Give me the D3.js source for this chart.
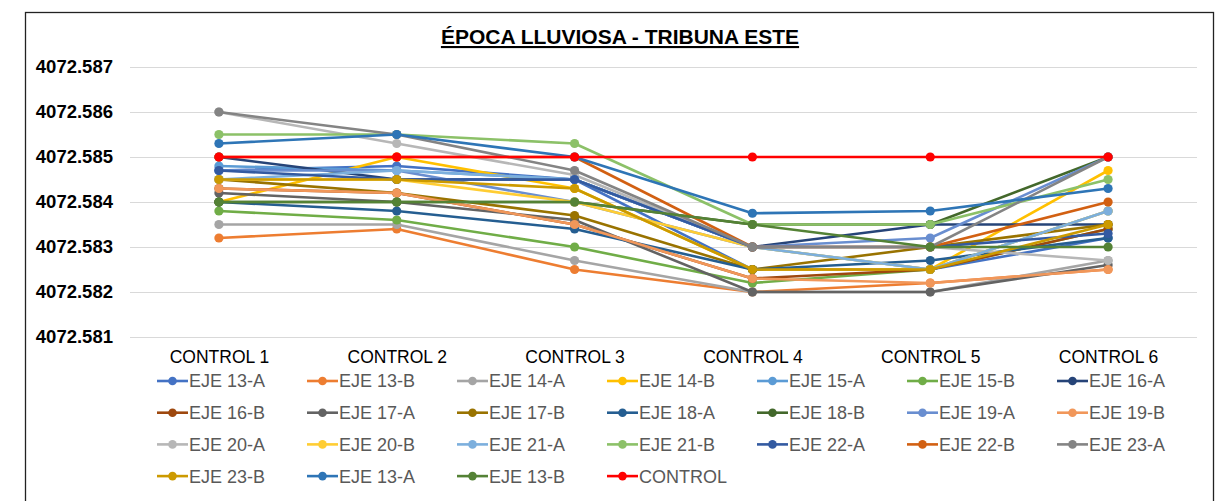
<!DOCTYPE html>
<html>
<head>
<meta charset="utf-8">
<script src="https://cdn.jsdelivr.net/npm/d3@7"></script>
<style>
  body { margin: 0; background: #fff; }
  svg { display: block; font-family: "Liberation Sans", Arial, sans-serif; }
</style>
</head>
<body>
<svg id="chart" width="1225" height="501"></svg>
<script>
// Época lluviosa, tribuna este: elevation readings per control.
const CONTROLS = ['CONTROL 1', 'CONTROL 2', 'CONTROL 3', 'CONTROL 4', 'CONTROL 5', 'CONTROL 6'];
const Y_TICKS = [4072.581, 4072.582, 4072.583, 4072.584, 4072.585, 4072.586, 4072.587];

const SERIES_NAMES = [
  'EJE 13-A', 'EJE 13-B', 'EJE 14-A', 'EJE 14-B', 'EJE 15-A', 'EJE 15-B', 'EJE 16-A',
  'EJE 16-B', 'EJE 17-A', 'EJE 17-B', 'EJE 18-A', 'EJE 18-B', 'EJE 19-A', 'EJE 19-B',
  'EJE 20-A', 'EJE 20-B', 'EJE 21-A', 'EJE 21-B', 'EJE 22-A', 'EJE 22-B', 'EJE 23-A',
  'EJE 23-B', 'EJE 13-A', 'EJE 13-B', 'CONTROL',
];

const SERIES_COLORS = [
  '#4472C4', '#ED7D31', '#A5A5A5', '#FFC000', '#5B9BD5', '#70AD47', '#264478',
  '#9E480E', '#636363', '#997300', '#255E91', '#43682B', '#698ED0', '#F1975A',
  '#B7B7B7', '#FFCD33', '#7CAFDD', '#8CC168', '#335AA1', '#D26012', '#848484',
  '#CC9A00', '#2E75B6', '#548235', '#FF0000',
];

// one row per series, one value per control
const SERIES_VALUES = [
  [4072.5847, 4072.5848, 4072.5845, 4072.5825, 4072.5825, 4072.5832],
  [4072.5832, 4072.5834, 4072.5825, 4072.5820, 4072.5822, 4072.5825],
  [4072.5835, 4072.5835, 4072.5827, 4072.5820, 4072.5820, 4072.5827],
  [4072.5840, 4072.5850, 4072.5843, 4072.5825, 4072.5825, 4072.5847],
  [4072.5848, 4072.5847, 4072.5845, 4072.5830, 4072.5825, 4072.5838],
  [4072.5838, 4072.5836, 4072.5830, 4072.5822, 4072.5825, 4072.5834],
  [4072.5850, 4072.5845, 4072.5845, 4072.5830, 4072.5835, 4072.5835],
  [4072.5843, 4072.5842, 4072.5835, 4072.5823, 4072.5825, 4072.5834],
  [4072.5842, 4072.5840, 4072.5836, 4072.5820, 4072.5820, 4072.5826],
  [4072.5845, 4072.5842, 4072.5837, 4072.5825, 4072.5830, 4072.5835],
  [4072.5840, 4072.5838, 4072.5834, 4072.5825, 4072.5827, 4072.5832],
  [4072.5840, 4072.5840, 4072.5840, 4072.5835, 4072.5835, 4072.5850],
  [4072.5847, 4072.5847, 4072.5840, 4072.5830, 4072.5832, 4072.5850],
  [4072.5843, 4072.5842, 4072.5835, 4072.5823, 4072.5822, 4072.5825],
  [4072.5860, 4072.5853, 4072.5846, 4072.5830, 4072.5830, 4072.5827],
  [4072.5845, 4072.5845, 4072.5840, 4072.5830, 4072.5825, 4072.5838],
  [4072.5845, 4072.5847, 4072.5845, 4072.5830, 4072.5825, 4072.5838],
  [4072.5855, 4072.5855, 4072.5853, 4072.5835, 4072.5835, 4072.5845],
  [4072.5847, 4072.5845, 4072.5845, 4072.5830, 4072.5830, 4072.5833],
  [4072.5850, 4072.5850, 4072.5850, 4072.5830, 4072.5830, 4072.5840],
  [4072.5860, 4072.5855, 4072.5847, 4072.5830, 4072.5830, 4072.5850],
  [4072.5845, 4072.5845, 4072.5843, 4072.5825, 4072.5825, 4072.5835],
  [4072.5853, 4072.5855, 4072.5850, 4072.58375, 4072.5838, 4072.5843],
  [4072.5840, 4072.5840, 4072.5840, 4072.5835, 4072.5830, 4072.5830],
  [4072.5850, 4072.5850, 4072.5850, 4072.5850, 4072.5850, 4072.5850],
];

const svg = d3.select('#chart');
const plot = { left: 130, right: 1197, top: 67, bottom: 337 };

const x = d3.scalePoint().domain(CONTROLS).range([plot.left, plot.right]).padding(0.5);
const y = d3.scaleLinear().domain([4072.581, 4072.587]).range([plot.bottom, plot.top]);

// outer frame
svg.append('rect')
  .attr('x', 25.5).attr('y', 12.5)
  .attr('width', 1188).attr('height', 520)
  .attr('fill', 'none')
  .attr('stroke', '#222')
  .attr('stroke-width', 1.3);

svg.append('text')
  .attr('x', 620).attr('y', 44)
  .attr('text-anchor', 'middle')
  .style('font-size', '21px')
  .style('font-weight', 'bold')
  .style('text-decoration', 'underline')
  .attr('fill', '#000')
  .text('ÉPOCA LLUVIOSA - TRIBUNA ESTE');

// gridlines + y labels
const yAxis = d3.axisLeft(y).tickValues(Y_TICKS).tickFormat(d3.format('.3f'))
  .tickSize(-(plot.right - plot.left)).tickPadding(17);
const yg = svg.append('g').attr('transform', `translate(${plot.left},0)`).call(yAxis);
yg.select('.domain').remove();
yg.selectAll('.tick line').attr('stroke', '#d9d9d9').attr('stroke-width', 1.2);
yg.selectAll('.tick text')
  .attr('fill', '#000')
  .style('font-size', '18.5px')
  .style('font-weight', 'bold')
  .style('font-family', '"Liberation Sans", Arial, sans-serif');

// x labels
const xAxis = d3.axisBottom(x).tickSize(0).tickPadding(0);
const xg = svg.append('g').attr('transform', `translate(0,${plot.bottom + 14})`).call(xAxis);
xg.select('.domain').remove();
xg.selectAll('.tick text')
  .attr('fill', '#000')
  .attr('dy', '0.71em')
  .style('font-size', '17.5px')
  .style('font-family', '"Liberation Sans", Arial, sans-serif');

const series = SERIES_NAMES.map((name, i) => ({
  name,
  color: SERIES_COLORS[i],
  values: SERIES_VALUES[i].map((v, j) => ({ c: CONTROLS[j], v })),
}));

const line = d3.line().x((d) => x(d.c)).y((d) => y(d.v));

const sg = svg.append('g')
  .selectAll('g.series')
  .data(series)
  .enter()
  .append('g')
  .attr('class', 'series');

sg.append('path')
  .attr('d', (d) => line(d.values))
  .attr('fill', 'none')
  .attr('stroke', (d) => d.color)
  .attr('stroke-width', 2.6)
  .attr('stroke-linejoin', 'round');

sg.selectAll('circle')
  .data((d) => d.values.map((p) => ({ ...p, color: d.color })))
  .enter()
  .append('circle')
  .attr('cx', (d) => x(d.c))
  .attr('cy', (d) => y(d.v))
  .attr('r', 4.6)
  .attr('fill', (d) => d.color);

// legend, 7 columns
const legend = svg.append('g')
  .selectAll('g.item')
  .data(series)
  .enter()
  .append('g')
  .attr('class', 'item')
  .attr('transform', (d, i) => `translate(${157 + (i % 7) * 150},${381 + Math.floor(i / 7) * 31.7})`);

legend.append('line')
  .attr('x1', 0).attr('x2', 31)
  .attr('stroke', (d) => d.color)
  .attr('stroke-width', 2.6);

legend.append('circle')
  .attr('cx', 15.5).attr('r', 4.3)
  .attr('fill', (d) => d.color);

legend.append('text')
  .attr('x', 32)
  .attr('dy', '0.36em')
  .attr('fill', '#595959')
  .style('font-size', '18px')
  .text((d) => d.name);
</script>
</body>
</html>
